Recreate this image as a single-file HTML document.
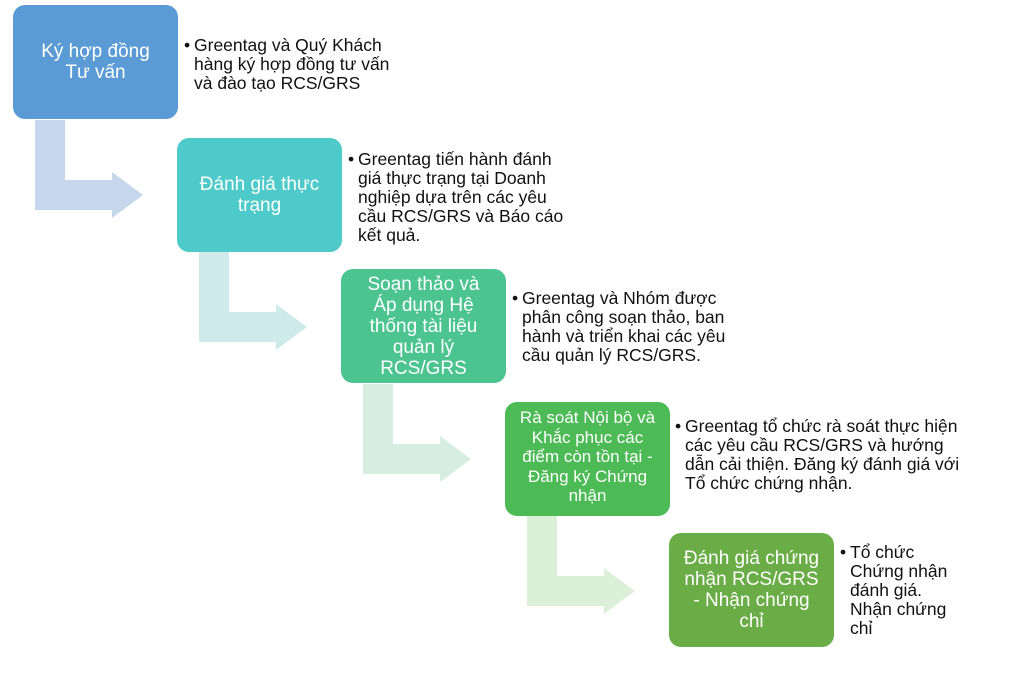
<!DOCTYPE html>
<html><head><meta charset="utf-8"><style>
body{margin:0;width:1024px;height:677px;background:#fff;position:relative;overflow:hidden;font-family:"Liberation Sans",Arial,sans-serif}
.b{position:absolute;width:165px;height:114px;border-radius:12px;color:#fff;font-size:19px;line-height:21px;display:flex;align-items:center;justify-content:center;text-align:center;box-sizing:border-box;padding:0 4px;white-space:nowrap}
.t{position:absolute;font-size:17.5px;line-height:19px;color:#111;padding-left:10px;white-space:nowrap}
.t:before{content:"•";position:absolute;left:0}
svg{position:absolute;left:0;top:0}
</style></head><body>
<svg width="1024" height="677">
<polygon points="35,120 65,120 65,180 112,180 112,172 143,195 112,218 112,210 35,210" fill="#c6d6ec"/>
<polygon points="199,252 229,252 229,312 276,312 276,304 307,327 276,350 276,342 199,342" fill="#cfeaea"/>
<polygon points="363,384 393,384 393,444 440,444 440,436 471,459 440,482 440,474 363,474" fill="#d6eee1"/>
<polygon points="527,516 557,516 557,576 604,576 604,568 635,591 604,614 604,606 527,606" fill="#dcefd8"/>
</svg>
<div class="b" style="left:13px;top:5px;background:#5b9bd5">Ký hợp đồng<br>Tư vấn</div>
<div class="b" style="left:177px;top:138px;background:#4fcaca">Đánh giá thực<br>trạng</div>
<div class="b" style="left:341px;top:269px;background:#4cc48f">Soạn thảo và<br>Áp dụng Hệ<br>thống tài liệu<br>quản lý<br>RCS/GRS</div>
<div class="b" style="left:505px;top:402px;background:#4cbb55;font-size:17px;line-height:19.5px;padding-bottom:4px">Rà soát Nội bộ và<br>Khắc phục các<br>điểm còn tồn tại -<br>Đăng ký Chứng<br>nhận</div>
<div class="b" style="left:669px;top:533px;background:#6aad46">Đánh giá chứng<br>nhận RCS/GRS<br>- Nhận chứng<br>chỉ</div>
<div class="t" style="left:184px;top:36px">Greentag và Quý Khách<br>hàng ký hợp đồng tư vấn<br>và đào tạo RCS/GRS</div>
<div class="t" style="left:348px;top:150px">Greentag tiến hành đánh<br>giá thực trạng tại Doanh<br>nghiệp dựa trên các yêu<br>cầu RCS/GRS và Báo cáo<br>kết quả.</div>
<div class="t" style="left:512px;top:289px">Greentag và Nhóm được<br>phân công soạn thảo, ban<br>hành và triển khai các yêu<br>cầu quản lý RCS/GRS.</div>
<div class="t" style="left:675px;top:417px">Greentag tổ chức rà soát thực hiện<br>các yêu cầu RCS/GRS và hướng<br>dẫn cải thiện. Đăng ký đánh giá với<br>Tổ chức chứng nhận.</div>
<div class="t" style="left:840px;top:543px">Tổ chức<br>Chứng nhận<br>đánh giá.<br>Nhận chứng<br>chỉ</div>
</body></html>
